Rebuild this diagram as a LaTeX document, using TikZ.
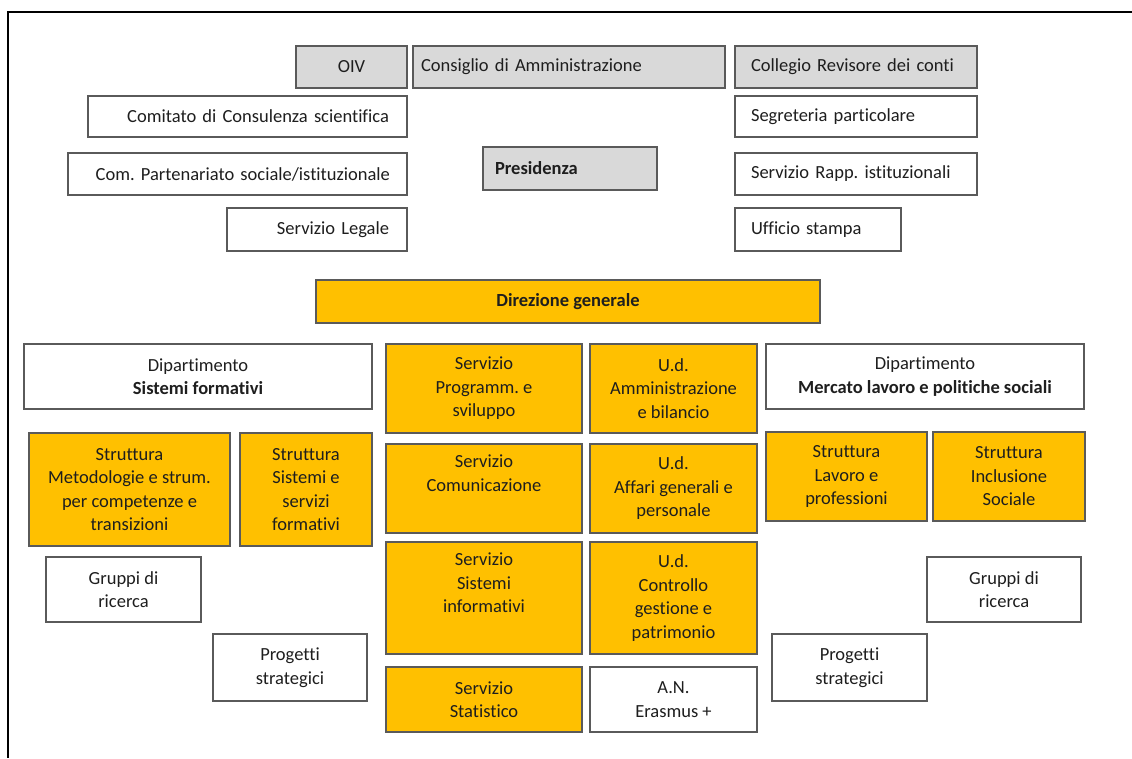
\documentclass[tikz,border=0pt]{standalone}
\usepackage{fontspec}
\setmainfont{Carlito}[Ligatures=NoCommon]
\frenchspacing
\definecolor{boxgray}{HTML}{D9D9D9}
\definecolor{boxorange}{HTML}{FFC000}
\definecolor{boxline}{HTML}{5A5A5A}
\definecolor{txt}{HTML}{1E1E1E}
\tikzset{
  base/.style={draw=boxline, line width=1.2pt, outer sep=0pt, inner sep=0pt, align=center,
    text=txt, font=\fontsize{18.5}{23.5}\selectfont},
  plain/.style={base, fill=white},
  grey/.style={base, fill=boxgray},
  orange/.style={base, fill=boxorange},
}
\newcommand\bx[7]{\node[#6, minimum width={(#4-#2)*1pt}, minimum height={(#5-#3)*1pt}] (#1) at ({(#2+#4)/2},{(#3+#5)/2}) {#7};}
\begin{document}
\begin{tikzpicture}[x=1pt,y=-1pt]
\useasboundingbox (0,0) rectangle (1132,758);
\fill[white] (0,0) rectangle (1132,758);
\coordinate (frameTR) at (1132,12);
\coordinate (frameTL) at (8,12);
\coordinate (frameBL) at (8,758);
\draw[line width=1.5pt] (frameTR) -- (frameTL) -- (frameBL);
% top row
\bx{oiv}{296}{46}{407}{88}{grey}{OIV}
\bx{cda}{413}{46}{725}{88}{grey,align=left,text width=296pt,inner xsep=8pt}{Consiglio di Amministrazione}
\bx{crc}{735}{46}{977}{88}{grey,align=left,text width=210pt,inner xsep=16pt}{Collegio Revisore dei conti}
% left column
\bx{ccs}{88}{96}{407}{137}{plain,align=right,text width=283pt,inner xsep=18pt}{Comitato di Consulenza scientifica}
\bx{cps}{68}{153}{407}{195}{plain,align=right,text width=305pt,inner xsep=17pt}{Com. Partenariato sociale/istituzionale}
\bx{sleg}{227}{208}{407}{251}{plain,align=right,text width=144pt,inner xsep=18pt}{Servizio Legale}
% centre
\bx{pres}{483}{147}{657}{190}{grey,align=left,text width=150pt,inner xsep=12pt}{\bfseries Presidenza}
% right column
\bx{segr}{735}{96}{977}{137}{plain,align=left,text width=210pt,inner xsep=16pt}{Segreteria particolare}
\bx{srap}{735}{153}{977}{195}{plain,align=left,text width=210pt,inner xsep=16pt}{Servizio Rapp. istituzionali}
\bx{ustp}{735}{208}{901}{251}{plain,align=left,text width=134pt,inner xsep=16pt}{Ufficio stampa}
% direzione
\bx{dg}{316}{280}{820}{323}{orange}{\bfseries Direzione generale}
% left department
\bx{dsf}{24}{344}{372}{409}{plain}{Dipartimento\\\bfseries Sistemi formativi}
\bx{smet}{29}{433}{230}{546}{orange}{Struttura\\Metodologie e strum.\\per competenze e\\transizioni}
\bx{ssis}{240}{433}{372}{546}{orange}{Struttura\\Sistemi e\\servizi\\formativi}
\bx{grl}{46}{557}{201}{622}{plain}{Gruppi di\\ricerca}
\bx{psl}{213}{634}{367}{701}{plain}{Progetti\\strategici}
% central services
\bx{sps}{386}{344}{582}{433}{orange}{Servizio\\Programm. e\\sviluppo}
\bx{scom}{386}{444}{582}{533}{orange}{Servizio\\Comunicazione\\\strut}
\bx{ssi}{386}{542}{582}{654}{orange}{Servizio\\Sistemi\\informativi\\\strut}
\bx{sst}{386}{667}{582}{732}{orange}{Servizio\\Statistico}
\bx{uamm}{590}{344}{757}{433}{orange}{U.d.\\Amministrazione\\e bilancio}
\bx{uaff}{590}{444}{757}{533}{orange}{U.d.\\Affari generali e\\personale}
\bx{ucon}{590}{542}{757}{654}{orange}{U.d.\\Controllo\\gestione e\\patrimonio}
\bx{aner}{590}{667}{757}{732}{plain}{A.N.\\Erasmus +}
% right department
\bx{dml}{766}{344}{1084}{409}{plain}{Dipartimento\\\bfseries Mercato lavoro e politiche sociali}
\bx{slav}{766}{432}{927}{521}{orange}{Struttura\\Lavoro e\\professioni}
\bx{sinc}{933}{432}{1085}{521}{orange}{Struttura\\Inclusione\\Sociale}
\bx{grr}{927}{557}{1081}{622}{plain}{Gruppi di\\ricerca}
\bx{psr}{772}{634}{927}{701}{plain}{Progetti\\strategici}
\end{tikzpicture}
\end{document}
